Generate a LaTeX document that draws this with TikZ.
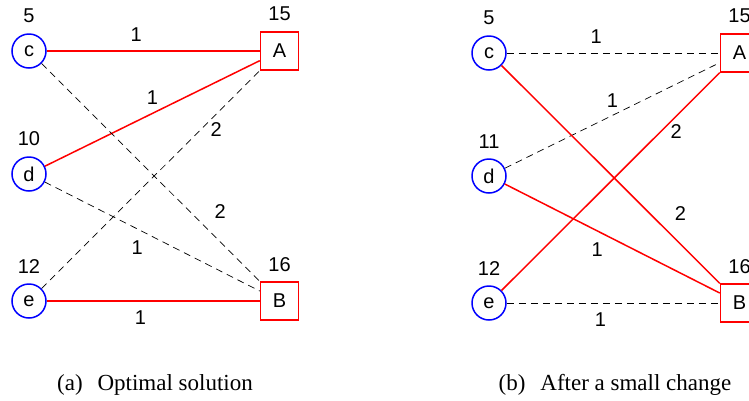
\documentclass[tikz,border=0pt]{standalone}
\usepackage{fontspec}
\setmainfont{Liberation Serif}
\setsansfont{Liberation Sans}
\usetikzlibrary{positioning}

\begin{document}
\begin{tikzpicture}[x=1pt, y=-1pt,
  font=\sffamily\fontsize{20}{24}\selectfont,
  src/.style={draw=blue, circle, line width=1.5pt, minimum size=34pt, inner sep=0pt},
  dst/.style={draw=red, rectangle, line width=1.5pt, minimum size=38pt, inner sep=0pt},
  chosen/.style={red, line width=1.5pt},
  spare/.style={black, line width=0.7pt, dash pattern=on 7pt off 5pt},
  lbl/.style={inner sep=0pt, text=black},
  val/.style={inner sep=0pt, text=black, yshift=10pt},
  subcap/.style={font=\rmfamily\fontsize{23}{26}\selectfont, anchor=base}]
\useasboundingbox (0,0) rectangle (749,400);
\clip (0,0) rectangle (749,400);
% (a) optimal solution
\begin{scope}
\node[src, label={[val]above:5}] (c1) at (29,51) {c};
\node[src, label={[val]above:10}] (d1) at (29,174) {d};
\node[src, label={[val]above:12}] (e1) at (29,301) {e};
\node[dst, label={[val]above:15}] (A1) at (279.5,51) {A};
\node[dst, label={[val, yshift=-1pt]above:16}] (B1) at (279.5,301) {B};
\draw[chosen] (c1) -- node[lbl, pos=0.42, above=9pt] {1} (A1);
\draw[chosen] (d1) -- node[lbl, pos=0.5, above=8pt] {1} (A1);
\draw[spare] (e1) -- node[lbl, pos=0.8, below=8pt] {2} (A1);
\draw[spare] (c1) -- node[lbl, pos=0.75, above right=8pt and 9pt] {2} (B1);
\draw[spare] (d1) -- node[lbl, pos=0.43, below=11pt] {1} (B1);
\draw[chosen] (e1) -- node[lbl, pos=0.44, below=9pt] {1} (B1);
\node[subcap] (capa) at (155,390) {(a)\hspace{0.65em}Optimal solution};
\end{scope}
% (b) after a small change
\begin{scope}[shift={(460,2)}]
\node[src, label={[val]above:5}] (c2) at (29,51) {c};
\node[src, label={[val]above:11}] (d2) at (29,174) {d};
\node[src, label={[val]above:12}] (e2) at (29,301) {e};
\node[dst, label={[val]above:15}] (A2) at (279.5,51) {A};
\node[dst, label={[val, yshift=-1pt]above:16}] (B2) at (279.5,301) {B};
\draw[spare] (c2) -- node[lbl, pos=0.42, above=9pt] {1} (A2);
\draw[spare] (d2) -- node[lbl, pos=0.5, above=8pt] {1} (A2);
\draw[chosen] (e2) -- node[lbl, pos=0.8, below=8pt] {2} (A2);
\draw[chosen] (c2) -- node[lbl, pos=0.75, above right=8pt and 9pt] {2} (B2);
\draw[chosen] (d2) -- node[lbl, pos=0.43, below=11pt] {1} (B2);
\draw[spare] (e2) -- node[lbl, pos=0.44, below=9pt] {1} (B2);
\node[subcap] (capb) at (155,388) {(b)\hspace{0.65em}After a small change};
\end{scope}
\end{tikzpicture}
\end{document}
